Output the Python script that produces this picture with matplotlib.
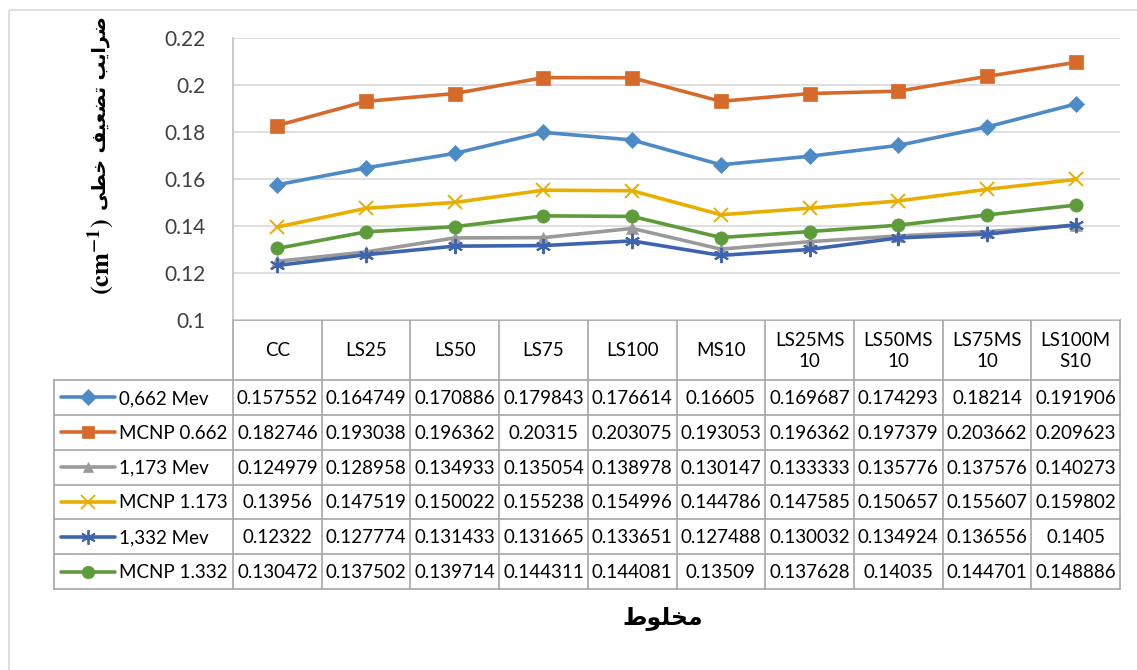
import matplotlib
matplotlib.use('Agg')
import matplotlib.pyplot as plt
from matplotlib.patches import Rectangle

# ---- data ----
categories = ['CC', 'LS25', 'LS50', 'LS75', 'LS100', 'MS10',
              'LS25MS\n10', 'LS50MS\n10', 'LS75MS\n10', 'LS100M\nS10']
series_names = ['0,662 Mev', 'MCNP 0.662', '1,173 Mev',
                'MCNP 1.173', '1,332 Mev', 'MCNP 1.332']
exp_0662 = [0.157552, 0.164749, 0.170886, 0.179843, 0.176614, 0.16605, 0.169687, 0.174293, 0.18214, 0.191906]
mcnp_0662 = [0.182746, 0.193038, 0.196362, 0.20315, 0.203075, 0.193053, 0.196362, 0.197379, 0.203662, 0.209623]
exp_1173 = [0.124979, 0.128958, 0.134933, 0.135054, 0.138978, 0.130147, 0.133333, 0.135776, 0.137576, 0.140273]
mcnp_1173 = [0.13956, 0.147519, 0.150022, 0.155238, 0.154996, 0.144786, 0.147585, 0.150657, 0.155607, 0.159802]
exp_1332 = [0.12322, 0.127774, 0.131433, 0.131665, 0.133651, 0.127488, 0.130032, 0.134924, 0.136556, 0.1405]
mcnp_1332 = [0.130472, 0.137502, 0.139714, 0.144311, 0.144081, 0.13509, 0.137628, 0.14035, 0.144701, 0.148886]
y_ticks = [0.1, 0.12, 0.14, 0.16, 0.18, 0.2, 0.22]

all_series = [exp_0662, mcnp_0662, exp_1173, mcnp_1173, exp_1332, mcnp_1332]
colors = ['#4E8AC5', '#D66A2B', '#9A9A9A', '#E8AE00', '#3E63AF', '#5E9B3A']
markers = ['D', 's', '^', 'x', (6, 2, 0), 'o']
msizes = [8.5, 9.5, 8, 10, 11, 9.5]

x_label = 'مخلوط'
y_label = 'ضرایب تضعیف خطی'

# ---- simple arabic shaping (presentation forms, visual order) ----
FORMS = {  # iso, fin, ini, med
    'ا': ('\uFE8D', '\uFE8E', None, None),
    'ب': ('\uFE8F', '\uFE90', '\uFE91', '\uFE92'),
    'ت': ('\uFE95', '\uFE96', '\uFE97', '\uFE98'),
    'خ': ('\uFEA5', '\uFEA6', '\uFEA7', '\uFEA8'),
    'ر': ('\uFEAD', '\uFEAE', None, None),
    'ض': ('\uFEBD', '\uFEBE', '\uFEBF', '\uFEC0'),
    'ط': ('\uFEC1', '\uFEC2', '\uFEC3', '\uFEC4'),
    'ع': ('\uFEC9', '\uFECA', '\uFECB', '\uFECC'),
    'ف': ('\uFED1', '\uFED2', '\uFED3', '\uFED4'),
    'ل': ('\uFEDD', '\uFEDE', '\uFEDF', '\uFEE0'),
    'م': ('\uFEE1', '\uFEE2', '\uFEE3', '\uFEE4'),
    'و': ('\uFEED', '\uFEEE', None, None),
    'ی': ('\uFBFC', '\uFBFD', '\uFBFE', '\uFBFF'),
}


def shape(s):
    out = []
    for i, ch in enumerate(s):
        if ch not in FORMS:
            out.append(ch)
            continue
        prev = s[i - 1] if i > 0 else ''
        nxt = s[i + 1] if i < len(s) - 1 else ''
        dual = FORMS[ch][2] is not None
        jp = prev in FORMS and FORMS[prev][2] is not None
        jn = dual and nxt in FORMS
        if jp and jn:
            out.append(FORMS[ch][3])
        elif jp:
            out.append(FORMS[ch][1])
        elif jn:
            out.append(FORMS[ch][2])
        else:
            out.append(FORMS[ch][0])
    return ''.join(out)[::-1]


W, H = 1137, 670
fig = plt.figure(figsize=(W / 100, H / 100), dpi=100)

# background layer in pixel coords for table + frame
bg = fig.add_axes([0, 0, 1, 1], zorder=0)
bg.set_xlim(0, W)
bg.set_ylim(H, 0)
bg.axis('off')

x0, x1 = 233, 1120
top, bot = 38, 320
col_w = (x1 - x0) / len(categories)
hdr_bot = 380
row_h = (589 - hdr_bot) / len(series_names)
leg_left = 54
grid_c = '#A6A6A6'

ax = fig.add_axes([x0 / W, 1 - bot / H, (x1 - x0) / W, (bot - top) / H], zorder=2)
ax.patch.set_alpha(0)
xs = [i + 0.5 for i in range(len(categories))]
for vals, c, mk, ms in zip(all_series, colors, markers, msizes):
    ax.plot(xs, vals, color=c, lw=2.6, marker=mk, ms=ms, mew=1.4 if mk in ('x', (6, 2, 0)) else 0.5,
            mec=c, mfc=c, solid_joinstyle='round')
ax.set_xlim(0, len(categories))
ax.set_ylim(0.1, 0.22)
ax.set_yticks(y_ticks)
ax.set_yticklabels([f'{v:g}' for v in y_ticks], fontsize=15, color='#404040', family='Lato')
ax.set_xticks([])
ax.tick_params(axis='y', length=0, pad=20)
ax.grid(axis='y', color='#D9D9D9', lw=1.2)
ax.set_axisbelow(True)
for s in ['top', 'right', 'bottom']:
    ax.spines[s].set_visible(False)
ax.spines['left'].set_color('#BFBFBF')
ax.spines['left'].set_linewidth(1.2)

# chart frame (top/left visible)
bg.add_patch(Rectangle((9, 10), W, H, fill=False, ec='#D9D9D9', lw=1.2))

# table lines
bg.plot([x0, x1], [bot, bot], color=grid_c, lw=1.2)
bg.plot([leg_left, x1], [hdr_bot, hdr_bot], color=grid_c, lw=1.2)
for r in range(1, len(series_names) + 1):
    y = hdr_bot + r * row_h
    bg.plot([leg_left, x1], [y, y], color=grid_c, lw=1.2)
for i in range(len(categories) + 1):
    x = x0 + i * col_w
    bg.plot([x, x], [bot, hdr_bot + len(series_names) * row_h], color=grid_c, lw=1.2)
bg.plot([leg_left, leg_left], [hdr_bot, hdr_bot + len(series_names) * row_h], color=grid_c, lw=1.2)

# header labels
for i, cat in enumerate(categories):
    bg.text(x0 + (i + 0.5) * col_w, (bot + hdr_bot) / 2 + 1, cat, ha='center', va='center',
            fontsize=13.5, family='Lato', color='black', linespacing=1.35)

# rows
for r, (name, vals, c, mk, ms) in enumerate(zip(series_names, all_series, colors, markers, msizes)):
    yc = hdr_bot + (r + 0.5) * row_h
    bg.plot([61, 115], [yc, yc], color=c, lw=2.6, solid_capstyle='round')
    bg.plot([88], [yc], marker=mk, color=c, ms=ms * 0.95,
            mew=1.3 if mk in ('x', (6, 2, 0)) else 0.5)
    bg.text(119, yc + 1, name, ha='left', va='center', fontsize=13.5, family='Lato', color='black')
    for i, v in enumerate(vals):
        bg.text(x0 + (i + 0.5) * col_w, yc + 1, str(v), ha='center', va='center',
                fontsize=13.5, family='Lato', color='black')

# axis titles
fig.text(663 / W, 1 - 618 / H, shape(x_label), ha='center', va='center',
         fontsize=17, fontweight='bold', family='DejaVu Sans')
fig.text(100 / W, 1 - 210 / H, shape(y_label), rotation=90, ha='center', va='bottom',
         fontsize=13.5, fontweight='bold', family='DejaVu Sans')
plt.rcParams['mathtext.fontset'] = 'stix'
fig.text(101 / W, 1 - 218 / H, r'$\mathbf{(cm^{-1})}$', rotation=90, ha='center', va='top',
         fontsize=19)

fig.savefig('out.png', dpi=100, facecolor='white')
